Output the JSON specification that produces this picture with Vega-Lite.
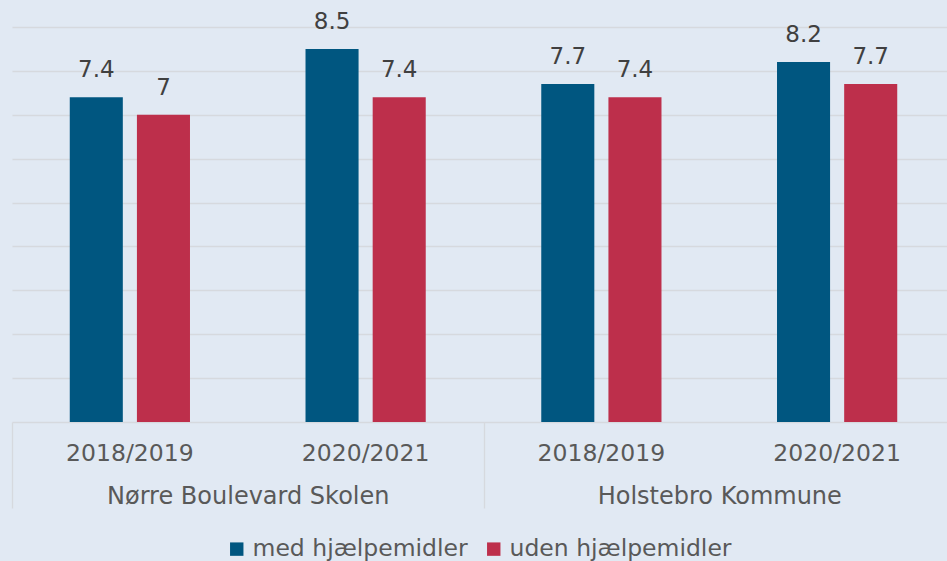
{
  "$schema": "https://vega.github.io/schema/vega-lite/v6.json",
  "width": 935,
  "height": 395,
  "autosize": "none",
  "padding": {"left": 12, "top": 27, "right": 0, "bottom": 139},
  "background": "#E1E9F3",
  "config": {
    "font": "DejaVu Sans",
    "view": {"stroke": null},
    "axis": {"title": null}
  },
  "layer": [
    {
      "data": {
        "values": [
          {"key": "Nørre Boulevard Skolen|2018/2019", "serie": "med hjælpemidler", "value": 7.4},
          {"key": "Nørre Boulevard Skolen|2018/2019", "serie": "uden hjælpemidler", "value": 7.0},
          {"key": "Nørre Boulevard Skolen|2020/2021", "serie": "med hjælpemidler", "value": 8.5},
          {"key": "Nørre Boulevard Skolen|2020/2021", "serie": "uden hjælpemidler", "value": 7.4},
          {"key": "Holstebro Kommune|2018/2019", "serie": "med hjælpemidler", "value": 7.7},
          {"key": "Holstebro Kommune|2018/2019", "serie": "uden hjælpemidler", "value": 7.4},
          {"key": "Holstebro Kommune|2020/2021", "serie": "med hjælpemidler", "value": 8.2},
          {"key": "Holstebro Kommune|2020/2021", "serie": "uden hjælpemidler", "value": 7.7}
        ]
      },
      "encoding": {
        "x": {
          "field": "key",
          "type": "nominal",
          "sort": null,
          "scale": {"range": [0, 943], "paddingInner": 0, "paddingOuter": 0},
          "axis": {
            "orient": "bottom",
            "labelExpr": "split(datum.value, '|')[1]",
            "labelAngle": 0,
            "labelFontSize": 23.5,
            "labelColor": "#595959",
            "labelPadding": 19,
            "labelLimit": 0,
            "ticks": false,
            "domainColor": "#D6D9DE",
            "domainWidth": 1.3,
            "grid": false
          }
        },
        "xOffset": {
          "field": "serie",
          "type": "nominal",
          "scale": {"paddingInner": 0.21, "paddingOuter": 0.86}
        },
        "y": {
          "field": "value",
          "type": "quantitative",
          "scale": {"domain": [0, 9], "nice": false},
          "axis": {
            "values": [1, 2, 3, 4, 5, 6, 7, 8, 9],
            "labels": false,
            "ticks": false,
            "domain": false,
            "grid": true,
            "gridColor": "#D6D9DE",
            "gridWidth": 1.3
          }
        }
      },
      "layer": [
        {
          "mark": {"type": "bar"},
          "encoding": {
            "color": {
              "field": "serie",
              "type": "nominal",
              "scale": {"domain": ["med hjælpemidler", "uden hjælpemidler"], "range": ["#005680", "#BD2F4B"]},
              "legend": {
                "orient": "none",
                "direction": "horizontal",
                "legendX": 213,
                "legendY": 510,
                "title": null,
                "symbolType": "square",
                "symbolSize": 180,
                "symbolStrokeWidth": 0,
                "labelFontSize": 23.5,
                "labelColor": "#595959",
                "labelOffset": 4,
                "labelLimit": 0,
                "columnPadding": 14,
                "padding": 0
              }
            }
          }
        },
        {
          "mark": {"type": "text", "baseline": "alphabetic", "dy": -20, "fontSize": 23, "color": "#404040"},
          "encoding": {
            "text": {"field": "value", "type": "quantitative"}
          }
        }
      ]
    },
    {
      "data": {
        "values": [
          {"group": "Nørre Boulevard Skolen"},
          {"group": "Holstebro Kommune"}
        ]
      },
      "mark": {"type": "point", "opacity": 0},
      "encoding": {
        "x": {
          "field": "group",
          "type": "nominal",
          "sort": null,
          "scale": {"range": [0, 943], "paddingInner": 0, "paddingOuter": 0},
          "axis": {
            "orient": "bottom",
            "labelAngle": 0,
            "labelFontSize": 24,
            "labelColor": "#595959",
            "labelLimit": 0,
            "tickBand": "extent",
            "tickSize": 86,
            "tickColor": "#D6D9DE",
            "tickWidth": 1.3,
            "labelPadding": -24,
            "domain": false,
            "grid": false
          }
        }
      }
    }
  ],
  "resolve": {"scale": {"x": "independent"}, "axis": {"x": "independent"}}
}
